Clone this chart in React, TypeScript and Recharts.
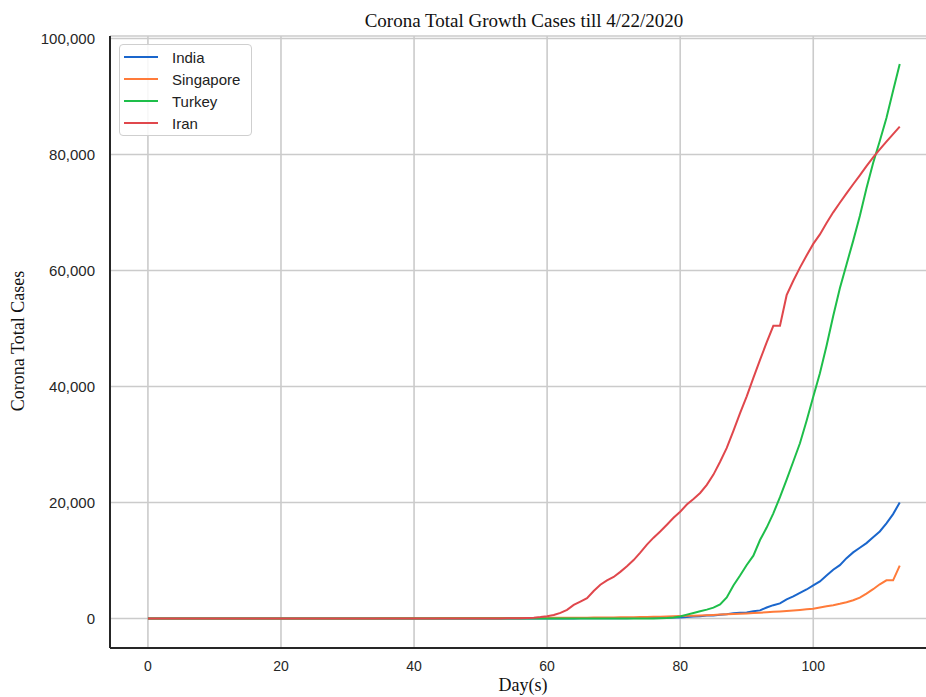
import { LineChart, Line, XAxis, YAxis, CartesianGrid, Legend } from "recharts";

// day index 0..113 (counted from 31 Dec 2019 up to 22 Apr 2020)
const india = [
  0, 0, 0, 0, 0, 0, 0, 0, 0, 0,
  0, 0, 0, 0, 0, 0, 0, 0, 0, 0,
  0, 0, 0, 0, 0, 0, 0, 0, 0, 0,
  1, 1, 1, 2, 3, 3, 3, 3, 3, 3,
  3, 3, 3, 3, 3, 3, 3, 3, 3, 3,
  3, 3, 3, 3, 3, 3, 3, 3, 3, 3,
  3, 3, 3, 5, 6, 28, 30, 31, 34, 39,
  43, 56, 62, 73, 82, 102, 113, 119, 142, 156,
  194, 244, 330, 396, 499, 536, 657, 727, 887, 987,
  1024, 1251, 1397, 1900, 2300, 2600, 3300, 3800, 4400, 5000,
  5700, 6400, 7400, 8400, 9200, 10400, 11400, 12200, 13000, 14000,
  15000, 16400, 18000, 20000,
];

const singapore = [
  0, 0, 0, 0, 0, 0, 0, 0, 0, 0,
  0, 0, 0, 0, 0, 0, 0, 0, 0, 0,
  0, 0, 0, 1, 3, 3, 4, 5, 7, 7,
  10, 13, 16, 18, 18, 24, 28, 30, 33, 40,
  45, 47, 50, 58, 67, 72, 75, 77, 81, 84,
  85, 89, 90, 91, 93, 96, 98, 102, 102, 106,
  108, 110, 112, 117, 130, 138, 150, 160, 166, 178,
  187, 200, 212, 226, 243, 266, 290, 313, 345, 385,
  420, 455, 490, 530, 570, 620, 690, 730, 780, 830,
  880, 930, 1000, 1070, 1150, 1220, 1300, 1380, 1480, 1600,
  1700, 1910, 2108, 2299, 2532, 2800, 3150, 3600, 4300, 5050,
  5900, 6588, 6588, 9125,
];

const turkey = [
  0, 0, 0, 0, 0, 0, 0, 0, 0, 0,
  0, 0, 0, 0, 0, 0, 0, 0, 0, 0,
  0, 0, 0, 0, 0, 0, 0, 0, 0, 0,
  0, 0, 0, 0, 0, 0, 0, 0, 0, 0,
  0, 0, 0, 0, 0, 0, 0, 0, 0, 0,
  0, 0, 0, 0, 0, 0, 0, 0, 0, 0,
  0, 0, 0, 0, 0, 0, 0, 0, 0, 0,
  0, 1, 1, 5, 5, 6, 18, 47, 98, 192,
  359, 670, 947, 1236, 1529, 1872, 2433, 3629, 5698, 7402,
  9217, 10827, 13531, 15679, 18135, 20921, 23934, 27069, 30217, 34109,
  38226, 42282, 47029, 52167, 56956, 61049, 65111, 69392, 74193, 78546,
  82329, 86306, 90980, 95591,
];

const iran = [
  0, 0, 0, 0, 0, 0, 0, 0, 0, 0,
  0, 0, 0, 0, 0, 0, 0, 0, 0, 0,
  0, 0, 0, 0, 0, 0, 0, 0, 0, 0,
  0, 0, 0, 0, 0, 0, 0, 0, 0, 0,
  0, 0, 0, 0, 0, 0, 0, 0, 0, 0,
  0, 2, 5, 18, 28, 43, 61, 95, 141, 245,
  388, 593, 978, 1501, 2336, 2922, 3513, 4747, 5823, 6566,
  7161, 8042, 9000, 10075, 11364, 12729, 13938, 14991, 16169, 17361,
  18407, 19644, 20610, 21638, 23049, 24811, 27017, 29406, 32332, 35408,
  38309, 41495, 44605, 47593, 50468, 50468, 55743, 58226, 60500, 62589,
  64586, 66220, 68192, 70029, 71686, 73303, 74877, 76389, 77995, 79494,
  80868, 82211, 83505, 84802,
];

const xTicks = [0, 20, 40, 60, 80, 100];
const yTicks = [0, 20000, 40000, 60000, 80000, 100000];

const series = [
  { name: "India", values: india, color: "#1a66cc" },
  { name: "Singapore", values: singapore, color: "#ff7b3a" },
  { name: "Turkey", values: turkey, color: "#1ebe4a" },
  { name: "Iran", values: iran, color: "#e0474c" },
];

const data = india.map((_, i) => {
  const row: Record<string, number> = { day: i };
  series.forEach((s) => (row[s.name] = s.values[i]));
  return row;
});

const sans = "'Liberation Sans', Arial, sans-serif";
const serif = "'Liberation Serif', 'Times New Roman', serif";

// legend keeps the plotting order (recharts would sort it by name)
const renderLegend = () => (
  <div
    style={{
      border: "1px solid #cfcfcf",
      borderRadius: 4,
      background: "rgba(255,255,255,0.85)",
      padding: "1px 0 1px 4px",
      boxSizing: "border-box",
      width: 133,
    }}
  >
    {series.map((s) => (
      <div key={s.name} style={{ display: "flex", alignItems: "center", height: 22 }}>
        <span style={{ display: "inline-block", width: 34, height: 2, background: s.color }} />
        <span style={{ marginLeft: 14, fontFamily: sans, fontSize: 15, color: "#222" }}>{s.name}</span>
      </div>
    ))}
  </div>
);

export default function App() {
  return (
    <div
      style={{
        position: "absolute",
        left: 0,
        top: 0,
        width: 926,
        height: 697,
        overflow: "hidden",
        background: "#fff",
      }}
    >
      <LineChart width={940} height={697} data={data} margin={{ top: 36, right: 3, bottom: 19, left: 10 }}>
        <CartesianGrid stroke="#cbcbcb" strokeWidth={1.6} />
        <XAxis
          dataKey="day"
          type="number"
          domain={[-5.7, 118.6]}
          ticks={xTicks}
          allowDataOverflow
          height={30}
          tickLine={false}
          tickSize={8}
          tickMargin={5}
          axisLine={{ stroke: "#262626", strokeWidth: 2 }}
          tick={{ fontSize: 14, fill: "#262626", fontFamily: sans }}
        />
        <XAxis
          xAxisId="top"
          orientation="top"
          dataKey="day"
          type="number"
          domain={[-5.7, 118.6]}
          height={0}
          tick={false}
          tickLine={false}
          axisLine={{ stroke: "#262626", strokeWidth: 2 }}
        />
        <YAxis
          type="number"
          domain={[-5086, 100431]}
          ticks={yTicks}
          allowDataOverflow
          width={100}
          tickLine={false}
          tickSize={8}
          tickMargin={7}
          axisLine={{ stroke: "#262626", strokeWidth: 2 }}
          tick={{ fontSize: 15, fill: "#262626", fontFamily: sans }}
          tickFormatter={(v: number) => v.toLocaleString("en-US")}
        />
        {series.map((s) => (
          <Line
            key={s.name}
            type="linear"
            dataKey={s.name}
            stroke={s.color}
            strokeWidth={2}
            dot={false}
            activeDot={false}
            isAnimationActive={false}
          />
        ))}
        <Legend
          layout="horizontal"
          verticalAlign="middle"
          align="center"
          content={renderLegend}
          wrapperStyle={{ left: 119, top: 44, width: 133 }}
        />
      </LineChart>
      <div
        style={{
          position: "absolute",
          left: 224,
          top: 10,
          width: 600,
          textAlign: "center",
          fontFamily: serif,
          fontSize: 19,
          lineHeight: "22px",
          color: "#111",
        }}
      >
        Corona Total Growth Cases till 4/22/2020
      </div>
      <div
        style={{
          position: "absolute",
          left: 423,
          top: 674,
          width: 200,
          textAlign: "center",
          fontFamily: serif,
          fontSize: 18,
          lineHeight: "22px",
          color: "#111",
        }}
      >
        Day(s)
      </div>
      <div
        style={{
          position: "absolute",
          left: 18 - 100,
          top: 341 - 11,
          width: 200,
          height: 22,
          textAlign: "center",
          fontFamily: serif,
          fontSize: 18,
          lineHeight: "22px",
          color: "#111",
          transform: "rotate(-90deg)",
        }}
      >
        Corona Total Cases
      </div>
    </div>
  );
}
